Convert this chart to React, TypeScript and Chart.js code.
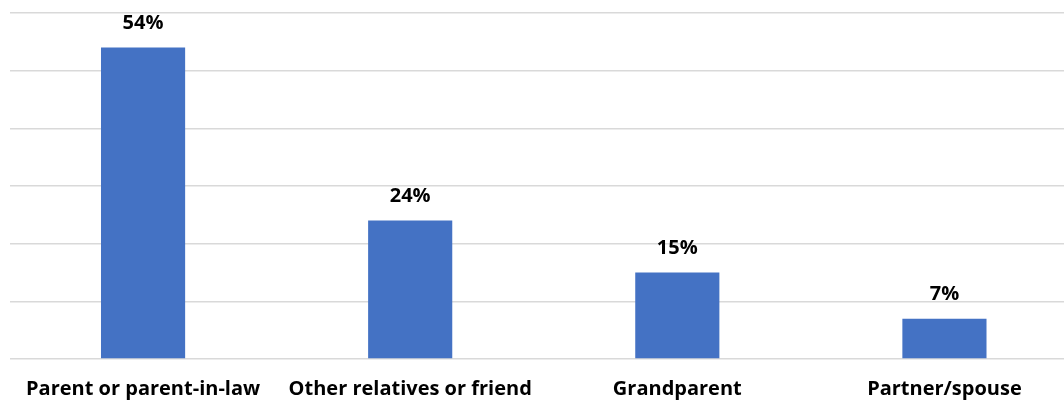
import React, { useEffect, useRef } from "react";
import { Chart, registerables } from "chart.js";

Chart.register(...registerables);

const categories = [
  "Parent or parent-in-law",
  "Other relatives or friend",
  "Grandparent",
  "Partner/spouse",
];
const shares = [54, 24, 15, 7];
const yTicks = [0, 10, 20, 30, 40, 50, 60];

const FONT = "'Open Sans', 'Liberation Sans', sans-serif";

const valueLabels = {
  id: "valueLabels",
  afterDatasetsDraw(chart: any) {
    const { ctx } = chart;
    const meta = chart.getDatasetMeta(0);
    ctx.save();
    ctx.font = `bold 20px ${FONT}`;
    ctx.fillStyle = "#000000";
    ctx.textAlign = "center";
    ctx.textBaseline = "middle";
    meta.data.forEach((bar: any, i: number) => {
      ctx.fillText(`${shares[i]}%`, bar.x, bar.y - 24);
    });
    ctx.restore();
  },
};

export default function App() {
  const ref = useRef<HTMLCanvasElement>(null);

  useEffect(() => {
    if (!ref.current) return;
    const chart = new Chart(ref.current, {
      type: "bar",
      data: {
        labels: categories,
        datasets: [
          {
            data: shares,
            backgroundColor: "#4472C4",
            borderWidth: 0,
            categoryPercentage: 0.315,
            barPercentage: 1,
          },
        ],
      },
      options: {
        responsive: false,
        animation: false,
        layout: { padding: { top: 13, left: 9.5, right: 0, bottom: 0 } },
        plugins: {
          legend: { display: false },
          tooltip: { enabled: false },
        },
        scales: {
          x: {
            grid: { display: false, drawTicks: false },
            border: { display: false },
            ticks: {
              padding: 18,
              maxRotation: 0,
              autoSkip: false,
              color: "#000000",
              font: { family: FONT, size: 20, weight: "bold" },
            },
          },
          y: {
            min: yTicks[0],
            max: yTicks[yTicks.length - 1],
            afterBuildTicks: (axis: any) => {
              axis.ticks = yTicks.map((v) => ({ value: v }));
            },
            grid: { color: "#d9d9d9", lineWidth: 1.5, drawTicks: false },
            border: { display: false },
            ticks: { display: false },
          },
        },
      },
      plugins: [valueLabels],
    });
    return () => chart.destroy();
  }, []);

  return (
    <div
      style={{
        position: "fixed",
        left: 0,
        top: 0,
        width: 1064,
        height: 402,
        overflow: "hidden",
        background: "#ffffff",
      }}
    >
      <canvas ref={ref} width={1078} height={419} style={{ width: 1078, height: 419 }} />
    </div>
  );
}
